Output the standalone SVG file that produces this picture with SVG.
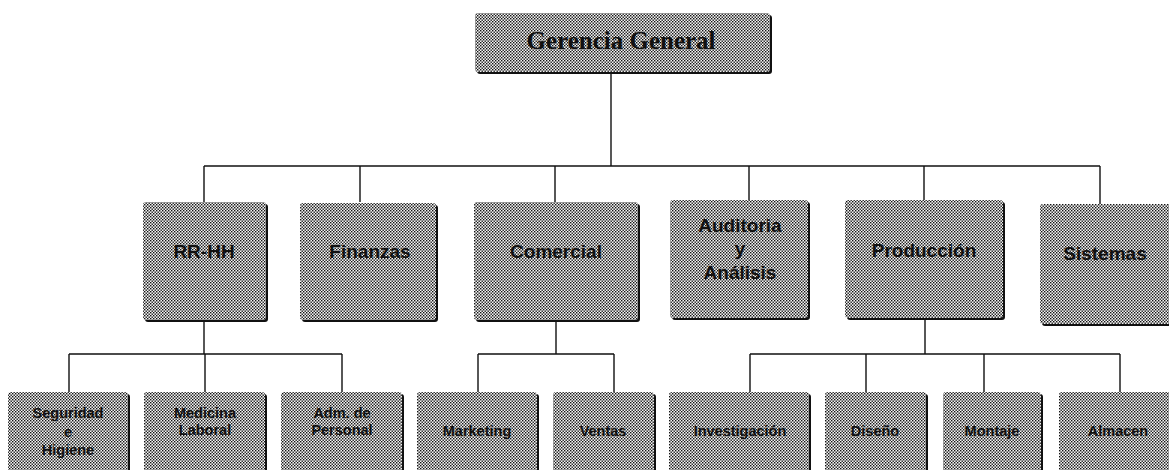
<svg xmlns="http://www.w3.org/2000/svg" width="1169" height="470" viewBox="0 0 1169 470">
  <defs>
    <!-- halftone dither used as the box fill -->
    <pattern id="dither" width="3" height="3" patternUnits="userSpaceOnUse">
      <rect width="3" height="3" fill="#f4f4f4"/>
      <rect x="0" y="0" width="1.4" height="1.4" fill="#111"/>
      <rect x="1.5" y="1.5" width="1.4" height="1.4" fill="#111"/>
    </pattern>
  </defs>
  <style>
    .shadow { fill: #111; }
    .box { fill: url(#dither); }
    .lbl { font-family: "Liberation Sans", Arial, sans-serif; font-weight: bold; fill: #111; text-anchor: middle; }
    .l2 { font-size: 19px; }
    .l3 { font-size: 14.5px; }
    .title { font-family: "Liberation Serif", "Times New Roman", serif; font-weight: bold; font-size: 25px; fill: #111; text-anchor: middle; }
    .wire { stroke: #111; stroke-width: 1.4; fill: none; }
  </style>

  <rect width="1169" height="470" fill="#ffffff"/>

  <!-- connectors -->
  <g id="connectors" class="wire">
    <path d="M611 72 V166"/>
    <path d="M204 166 H1100"/>
    <path d="M204 166 V202 M360 166 V202 M555 166 V202 M749 166 V200 M924 166 V200 M1100 166 V204"/>
    <!-- RR-HH branch -->
    <path d="M204 320 V354 M69 354 H342 M69 354 V392 M205 354 V392 M342 354 V392"/>
    <!-- Comercial branch -->
    <path d="M556 320 V354 M478 354 H614 M478 354 V392 M614 354 V392"/>
    <!-- Producción branch -->
    <path d="M925 318 V354 M750 354 H1120 M750 354 V392 M866 354 V392 M984 354 V392 M1120 354 V392"/>
  </g>

  <!-- top level -->
  <g id="gerencia">
    <rect class="shadow" x="477" y="15" width="295" height="59" rx="3"/>
    <rect class="box" x="475" y="13" width="295" height="59" rx="3"/>
    <text class="title" x="621" y="49">Gerencia General</text>
  </g>

  <!-- second level -->
  <g id="rrhh">
    <rect class="shadow" x="145" y="204" width="123" height="118" rx="3"/>
    <rect class="box" x="143" y="202" width="123" height="118" rx="3"/>
    <text class="lbl l2" x="204" y="258">RR-HH</text>
  </g>
  <g id="finanzas">
    <rect class="shadow" x="302" y="205" width="136" height="117" rx="3"/>
    <rect class="box" x="300" y="203" width="136" height="117" rx="3"/>
    <text class="lbl l2" x="370" y="258">Finanzas</text>
  </g>
  <g id="comercial">
    <rect class="shadow" x="476" y="204" width="164" height="118" rx="3"/>
    <rect class="box" x="474" y="202" width="164" height="118" rx="3"/>
    <text class="lbl l2" x="556" y="258">Comercial</text>
  </g>
  <g id="auditoria">
    <rect class="shadow" x="672" y="202" width="138" height="118" rx="3"/>
    <rect class="box" x="670" y="200" width="138" height="118" rx="3"/>
    <text class="lbl l2" x="740" y="232">Auditoria</text>
    <text class="lbl l2" x="740" y="255">y</text>
    <text class="lbl l2" x="740" y="279">Análisis</text>
  </g>
  <g id="produccion">
    <rect class="shadow" x="847" y="202" width="158" height="118" rx="3"/>
    <rect class="box" x="845" y="200" width="158" height="118" rx="3"/>
    <text class="lbl l2" x="924" y="257">Producción</text>
  </g>
  <g id="sistemas">
    <rect class="shadow" x="1042" y="206" width="132" height="120" rx="3"/>
    <rect class="box" x="1040" y="204" width="132" height="120" rx="3"/>
    <text class="lbl l2" x="1105" y="260">Sistemas</text>
  </g>

  <!-- third level -->
  <g id="seguridad">
    <rect class="shadow" x="10" y="394" width="120" height="90" rx="3"/>
    <rect class="box" x="8" y="392" width="120" height="90" rx="3"/>
    <text class="lbl l3" x="68" y="418">Seguridad</text>
    <text class="lbl l3" x="68" y="437">e</text>
    <text class="lbl l3" x="68" y="455">Higiene</text>
  </g>
  <g id="medicina">
    <rect class="shadow" x="146" y="394" width="121" height="90" rx="3"/>
    <rect class="box" x="144" y="392" width="121" height="90" rx="3"/>
    <text class="lbl l3" x="205" y="418">Medicina</text>
    <text class="lbl l3" x="205" y="435">Laboral</text>
  </g>
  <g id="adm-personal">
    <rect class="shadow" x="283" y="394" width="121" height="90" rx="3"/>
    <rect class="box" x="281" y="392" width="121" height="90" rx="3"/>
    <text class="lbl l3" x="342" y="418">Adm. de</text>
    <text class="lbl l3" x="342" y="435">Personal</text>
  </g>
  <g id="marketing">
    <rect class="shadow" x="419" y="394" width="120" height="90" rx="3"/>
    <rect class="box" x="417" y="392" width="120" height="90" rx="3"/>
    <text class="lbl l3" x="477" y="436">Marketing</text>
  </g>
  <g id="ventas">
    <rect class="shadow" x="555" y="394" width="101" height="90" rx="3"/>
    <rect class="box" x="553" y="392" width="101" height="90" rx="3"/>
    <text class="lbl l3" x="603" y="436">Ventas</text>
  </g>
  <g id="investigacion">
    <rect class="shadow" x="671" y="394" width="140" height="90" rx="3"/>
    <rect class="box" x="669" y="392" width="140" height="90" rx="3"/>
    <text class="lbl l3" x="740" y="436">Investigación</text>
  </g>
  <g id="diseno">
    <rect class="shadow" x="827" y="394" width="101" height="90" rx="3"/>
    <rect class="box" x="825" y="392" width="101" height="90" rx="3"/>
    <text class="lbl l3" x="875" y="436">Diseño</text>
  </g>
  <g id="montaje">
    <rect class="shadow" x="945" y="394" width="98" height="90" rx="3"/>
    <rect class="box" x="943" y="392" width="98" height="90" rx="3"/>
    <text class="lbl l3" x="992" y="436">Montaje</text>
  </g>
  <g id="almacen">
    <rect class="shadow" x="1061" y="394" width="118" height="90" rx="3"/>
    <rect class="box" x="1059" y="392" width="118" height="90" rx="3"/>
    <text class="lbl l3" x="1118" y="436">Almacen</text>
  </g>
</svg>
